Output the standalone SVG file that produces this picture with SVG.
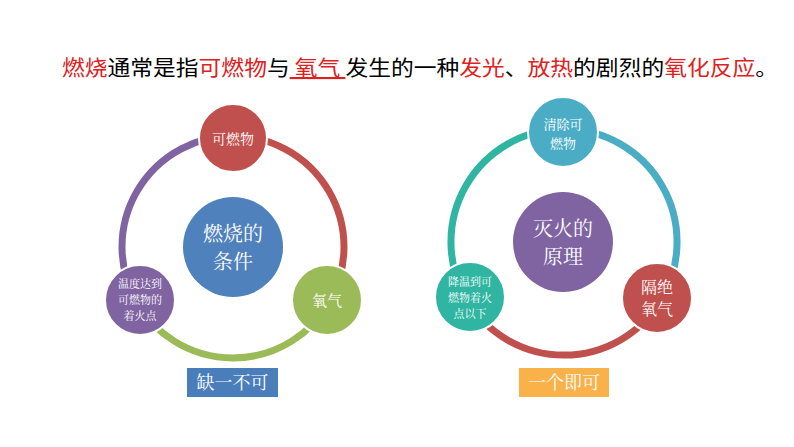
<svg xmlns="http://www.w3.org/2000/svg" width="794" height="447" viewBox="0 0 794 447">
<style>
text{font-family:"Noto Sans CJK SC","Liberation Sans",sans-serif;}
.t{font-size:21px;fill:#000}
.r{fill:#e0201c}
.n{stroke:#fff;stroke-width:2}
.l{fill:#fff;text-anchor:middle;font-family:"Noto Serif CJK SC","Noto Sans CJK SC",serif}
.a{fill:none;stroke-width:7}
</style>
<rect width="794" height="447" fill="#fff"/>
<text class="t" x="62" y="75" textLength="716" lengthAdjust="spacingAndGlyphs"><tspan class="r">燃烧</tspan>通常是指<tspan class="r">可燃物</tspan>与<tspan class="r" text-decoration="underline"> 氧气 </tspan>发生的一种<tspan class="r">发光</tspan>、<tspan class="r">放热</tspan>的剧烈的<tspan class="r">氧化反应</tspan>。</text>
<g id="connectors">
<path class="a" stroke="#c0504d" d="M233 136 A111 111 0 0 1 329.1 302.5"/>
<path class="a" stroke="#9bbb59" d="M329.1 302.5 A111 111 0 0 1 136.9 302.5"/>
<path class="a" stroke="#8064a2" d="M136.9 302.5 A111 111 0 0 1 233 136"/>
<path class="a" stroke="#4bacc6" d="M564 129 A113 113 0 0 1 661.9 298.5"/>
<path class="a" stroke="#c0504d" d="M661.9 298.5 A113 113 0 0 1 466.1 298.5"/>
<path class="a" stroke="#2fb5a2" d="M466.1 298.5 A113 113 0 0 1 564 129"/>
</g>
<g id="c1"><circle cx="233" cy="247" r="50" fill="#4f81bd"/><text class="l" x="233" y="241" font-size="20">燃烧的</text><text class="l" x="233" y="269" font-size="20">条件</text></g>
<g id="n1"><circle class="n" cx="233" cy="138" r="34" fill="#c0504d"/><text class="l" x="233" y="144" font-size="14">可燃物</text></g>
<g id="n2"><circle class="n" cx="327" cy="300" r="35" fill="#9bbb59"/><text class="l" x="327" y="306" font-size="15">氧气</text></g>
<g id="n3"><circle class="n" cx="140" cy="300" r="35" fill="#8064a2"/><text class="l" x="140" y="288" font-size="11">温度达到</text><text class="l" x="140" y="304" font-size="11">可燃物的</text><text class="l" x="140" y="320" font-size="11">着火点</text></g>
<g id="b1"><rect x="187" y="368" width="91" height="29" fill="#4a7ebb"/><text class="l" x="232.5" y="389" font-size="18">缺一不可</text></g>
<g id="c2"><circle cx="563" cy="242" r="50" fill="#8064a2"/><text class="l" x="563" y="236" font-size="20">灭火的</text><text class="l" x="563" y="264" font-size="20">原理</text></g>
<g id="m1"><circle class="n" cx="563" cy="132" r="35" fill="#4bacc6"/><text class="l" x="563" y="129" font-size="13">清除可</text><text class="l" x="563" y="148" font-size="13">燃物</text></g>
<g id="m2"><circle class="n" cx="657" cy="298" r="35" fill="#c0504d"/><text class="l" x="657" y="293" font-size="16">隔绝</text><text class="l" x="657" y="315" font-size="16">氧气</text></g>
<g id="m3"><circle class="n" cx="470" cy="297" r="35" fill="#2fb5a2"/><text class="l" x="470" y="286" font-size="11">降温到可</text><text class="l" x="470" y="302" font-size="11">燃物着火</text><text class="l" x="470" y="318" font-size="11">点以下</text></g>
<g id="b2"><rect x="519" y="368" width="90" height="29" fill="#f9b14a"/><text class="l" x="564" y="389" font-size="18">一个即可</text></g>
</svg>
